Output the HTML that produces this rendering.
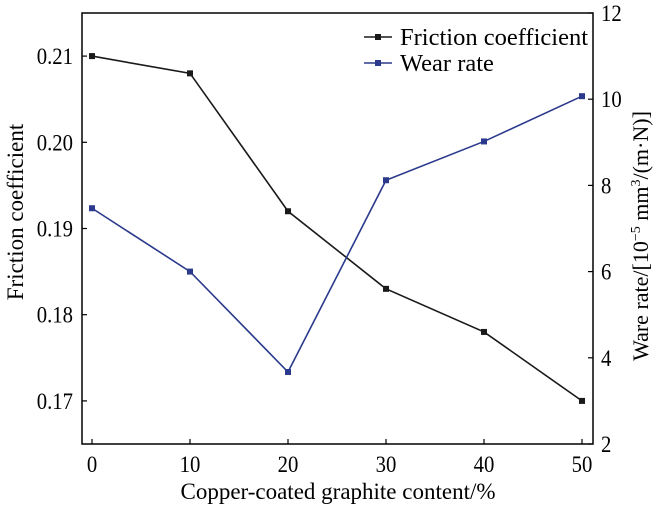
<!DOCTYPE html>
<html><head><meta charset="utf-8"><style>
body{margin:0;background:#fff;}
svg{display:block;font-family:"Liberation Serif",serif;}
</style></head><body>
<svg id="chart" width="657" height="507" xmlns="http://www.w3.org/2000/svg"></svg>
<script>
const categories=[0,10,20,30,40,50];
const frictionValues=[0.210,0.208,0.192,0.183,0.178,0.170];
const wearValues=[7.47,6.0,3.67,8.12,9.02,10.07];
const leftTicks=[0.17,0.18,0.19,0.20,0.21];
const leftTickLabels=["0.17","0.18","0.19","0.20","0.21"];
const rightTicks=[2,4,6,8,10,12];
const xTickLabels=["0","10","20","30","40","50"];
const L=82,R=593,T=13,B=444;
const xS=v=>92+(v-0)*(582-92)/50;
const yL=v=>444-(v-0.165)*(431/0.05);
const yR=v=>444-(v-2)*(431/10);
const svg=document.getElementById('chart');
const NS='http://www.w3.org/2000/svg';
function mk(t,a,txt){const e=document.createElementNS(NS,t);for(const k in a)e.setAttribute(k,a[k]);if(txt!==undefined)e.textContent=txt;svg.appendChild(e);return e;}
function lbl(x,y,txt,anchor){return mk('text',{x:0,y:0,'font-size':23,'text-anchor':anchor,transform:'translate('+x+','+y+') scale(0.9,1)'},txt);}
let e=mk('rect',{x:L,y:T,width:R-L,height:B-T,fill:'none',stroke:'#000','stroke-width':1.5});


categories.forEach((c,i)=>{
 let t=mk('line',{x1:xS(c),x2:xS(c),y1:B,y2:B-5,stroke:'#000','stroke-width':1.2});
 
 
 let l=lbl(xS(c),472,xTickLabels[i],'middle');
 
 
});
leftTicks.forEach((v,i)=>{
 let t=mk('line',{x1:L,x2:L+5,y1:yL(v),y2:yL(v),stroke:'#000','stroke-width':1.2});
 
 
 let l=lbl(L-9,yL(v)+8,leftTickLabels[i],'end');
 
 
});
rightTicks.forEach(v=>{
 let t=mk('line',{x1:R,x2:R-5,y1:yR(v),y2:yR(v),stroke:'#000','stroke-width':1.2});
 
 
 let l=lbl(R+8,yR(v)+8,String(v),'start');
 
 
});
let xt=mk('text',{x:338,y:499,'font-size':23,'text-anchor':'middle'},'Copper-coated graphite content/%');


let yt=mk('text',{x:0,y:0,'font-size':23,'text-anchor':'middle',transform:'translate(23,212) rotate(-90)'},'Friction coefficient');


let rt=mk('text',{x:0,y:0,'font-size':22,'text-anchor':'middle',transform:'translate(648,236) rotate(-90)'});


rt.innerHTML='Ware rate/[10<tspan dy="-8" font-size="14">−5</tspan><tspan dy="8"> mm</tspan><tspan dy="-8" font-size="14">3</tspan><tspan dy="8">/(m·N)]</tspan>';
function series(vals,ys,color,name){
 let p=mk('polyline',{points:vals.map((v,i)=>xS(categories[i])+','+ys(v)).join(' '),fill:'none',stroke:color,'stroke-width':1.6});
 
 
 vals.forEach((v,i)=>{
  let m=mk('rect',{x:xS(categories[i])-3,y:ys(v)-3,width:6,height:6,fill:color});
  
  
 });
}
series(frictionValues,yL,'#1a1a1a','friction');
series(wearValues,yR,'#2b3a8c','wear');
[['#1a1a1a','Friction coefficient',37,'legend-friction'],['#2b3a8c','Wear rate',63,'legend-wear']].forEach(d=>{
 let ln=mk('line',{x1:364,x2:392,y1:d[2],y2:d[2],stroke:d[0],'stroke-width':1.6});
 
 
 let m=mk('rect',{x:375,y:d[2]-3,width:6,height:6,fill:d[0]});
 
 
 let t=mk('text',{x:400,y:d[2]+8,'font-size':24.5},d[1]);
 
 
});
</script>
</body></html>
